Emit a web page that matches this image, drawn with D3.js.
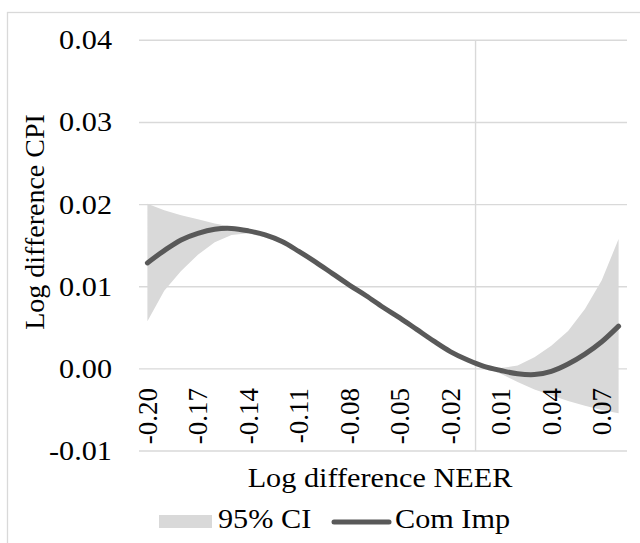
<!DOCTYPE html>
<html>
<head>
<meta charset="utf-8">
<script src="https://cdn.jsdelivr.net/npm/d3@7"></script>
<style>
html,body{margin:0;padding:0;background:#fff;}
svg{display:block;}
text{font-family:"Liberation Serif","Times New Roman",serif;fill:#000;}
</style>
</head>
<body>
<script>
const categories = ["-0.20","-0.19","-0.18","-0.17","-0.16","-0.15","-0.14","-0.13","-0.12","-0.11",
  "-0.10","-0.09","-0.08","-0.07","-0.06","-0.05","-0.04","-0.03","-0.02","-0.01",
  "0.00","0.01","0.02","0.03","0.04","0.05","0.06","0.07","0.08"];
const xTickLabels = ["-0.20","-0.17","-0.14","-0.11","-0.08","-0.05","-0.02","0.01","0.04","0.07"];
const yTicks = [-0.01, 0.00, 0.01, 0.02, 0.03, 0.04];
const yTickLabels = ["-0.01","0.00","0.01","0.02","0.03","0.04"];
const comImp = [0.0129,0.0144,0.0157,0.0165,0.0170,0.0171,0.0168,0.0163,0.0155,0.0143,
  0.0130,0.0116,0.0102,0.0089,0.0075,0.0062,0.0048,0.0034,0.0021,0.0011,
  0.0003,-0.0002,-0.0006,-0.0007,-0.0003,0.0006,0.0018,0.0033,0.0052];
const ciUpper = [0.0201,0.0193,0.0187,0.0182,0.0177,0.0173,0.0170,0.0164,0.0157,0.0145,
  0.0132,0.0117,0.0103,0.0090,0.0076,0.0063,0.0049,0.0035,0.0022,0.0012,
  0.0004,0.0001,0.0004,0.0014,0.0028,0.0046,0.0073,0.0108,0.0158];
const ciLower = [0.0058,0.0095,0.0119,0.0139,0.0154,0.0163,0.0165,0.0160,0.0153,0.0141,
  0.0129,0.0114,0.0100,0.0087,0.0073,0.0060,0.0046,0.0032,0.0019,0.0009,
  0.0001,-0.0006,-0.0016,-0.0025,-0.0032,-0.0039,-0.0045,-0.0050,-0.0054];
const yAxisCross = "0.00";

const W = 640, H = 543;
const SX = 1.12; // horizontal stretch of the original text
const svg = d3.select("body").append("svg").attr("width", W).attr("height", H);

// outer chart border
svg.append("rect").attr("x", 7.5).attr("y", 12.5).attr("width", 700).attr("height", 600)
  .attr("fill", "none").attr("stroke", "#d9d9d9").attr("stroke-width", 1.3);

const x = d3.scaleBand().domain(categories).range([139, 627]).padding(0);
const y = d3.scaleLinear().domain([-0.01, 0.04]).range([451, 40.3]);
const cx = c => x(c) + x.bandwidth() / 2;

function hText(px, py, anchor, size, str) {
  svg.append("text")
    .attr("transform", `translate(${px},${py}) scale(${SX},1)`)
    .attr("text-anchor", anchor).attr("font-size", size)
    .text(str);
}

// horizontal gridlines
svg.append("g").selectAll("line").data(yTicks).join("line")
  .attr("x1", 139).attr("x2", 627)
  .attr("y1", d => y(d)).attr("y2", d => y(d))
  .attr("stroke", "#d9d9d9").attr("stroke-width", 1.4);

// vertical axis line
svg.append("line").attr("x1", x(yAxisCross)).attr("x2", x(yAxisCross))
  .attr("y1", y(0.04)).attr("y2", y(-0.01))
  .attr("stroke", "#d9d9d9").attr("stroke-width", 1.4);

// y tick labels
yTicks.forEach((d, i) => hText(112, y(d) + 9, "end", 27, yTickLabels[i]));

// CI area
const pts = categories.map((c, i) => ({c, lo: ciLower[i], hi: ciUpper[i], v: comImp[i]}));
svg.append("path").datum(pts)
  .attr("d", d3.area().x(d => cx(d.c)).y0(d => y(d.lo)).y1(d => y(d.hi)))
  .attr("fill", "#d9d9d9");

// x tick labels (rotated)
svg.append("g").selectAll("text").data(xTickLabels).join("text")
  .attr("transform", d => `translate(${cx(d)},388) rotate(-90)`)
  .attr("dy", "0.35em").attr("text-anchor", "end").attr("font-size", 27)
  .text(d => d);

// line
svg.append("path").datum(pts)
  .attr("d", d3.line().x(d => cx(d.c)).y(d => y(d.v)).curve(d3.curveCatmullRom.alpha(0.5)))
  .attr("fill", "none").attr("stroke", "#595959").attr("stroke-width", 5)
  .attr("stroke-linecap", "round").attr("stroke-linejoin", "round");

// axis titles
svg.append("text").attr("transform", "translate(34,222) rotate(-90)")
  .attr("dy", "0.35em").attr("text-anchor", "middle").attr("font-size", 28)
  .text("Log difference CPI");
hText(380, 487, "middle", 27, "Log difference NEER");

// legend
svg.append("rect").attr("x", 159).attr("y", 515).attr("width", 53).attr("height", 13).attr("fill", "#d9d9d9");
hText(218, 528, "start", 27, "95% CI");
svg.append("line").attr("x1", 334).attr("x2", 389).attr("y1", 522).attr("y2", 522)
  .attr("stroke", "#595959").attr("stroke-width", 5).attr("stroke-linecap", "round");
hText(395, 528, "start", 27, "Com Imp");
</script>
</body>
</html>
